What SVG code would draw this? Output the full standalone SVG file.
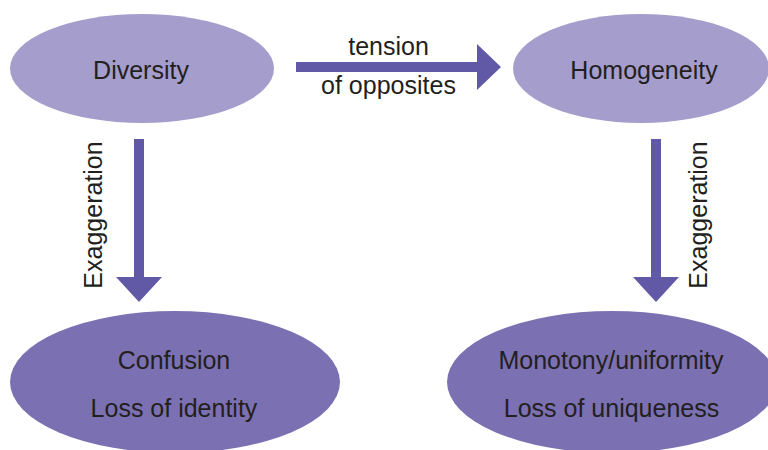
<svg xmlns="http://www.w3.org/2000/svg" width="768" height="450" viewBox="0 0 768 450">
<style>
.top{fill:#a59dcb}
.bot{fill:#7b70b2}
.arr{fill:#6159a5}
text{font-family:"Liberation Sans",Arial,sans-serif;font-size:25px;fill:#231f20;text-anchor:middle}
</style>
<rect width="768" height="450" fill="#ffffff"/>
<g id="connectors">
<g id="tension-arrow">
<polygon class="arr" points="296,62 477,62 477,44 501,67 477,90 477,72 296,72"/>
<text x="388.5" y="55">tension</text>
<text x="388.5" y="94">of opposites</text>
</g>
<g id="exaggeration-left">
<polygon class="arr" points="134,139 144,139 144,277 162,277 139,302 116,277 134,277"/>
<text transform="translate(102,215) rotate(-90)">Exaggeration</text>
</g>
<g id="exaggeration-right">
<polygon class="arr" points="651,139 661,139 661,277 679,277 656,302 633,277 651,277"/>
<text transform="translate(707,215) rotate(-90)">Exaggeration</text>
</g>
</g>
<g id="diversity">
<ellipse class="top" cx="142" cy="68.5" rx="132" ry="54.5"/>
<text x="141" y="79">Diversity</text>
</g>
<g id="homogeneity">
<ellipse class="top" cx="641" cy="68.5" rx="128" ry="54.5"/>
<text x="644" y="79">Homogeneity</text>
</g>
<g id="confusion">
<ellipse class="bot" cx="175" cy="382" rx="165" ry="71"/>
<text x="174" y="369">Confusion</text>
<text x="174" y="417">Loss of identity</text>
</g>
<g id="monotony">
<ellipse class="bot" cx="612" cy="382" rx="165" ry="71"/>
<text x="611" y="369">Monotony/uniformity</text>
<text x="611.5" y="417">Loss of uniqueness</text>
</g>
</svg>
